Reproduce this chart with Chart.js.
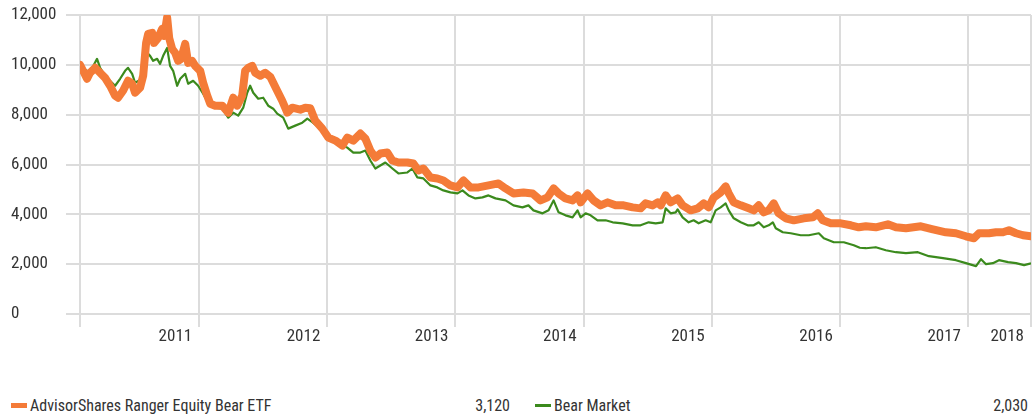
<!DOCTYPE html>
<html>
<head>
<meta charset="utf-8">
<script src="https://cdn.jsdelivr.net/npm/chart.js@4.4.1/dist/chart.umd.min.js"></script>
<style>
  body { margin: 0; background: #fff; }
  #wrap { position: relative; width: 1035px; height: 418px; font-family: 'Roboto Condensed', 'DejaVu Sans Condensed', sans-serif; color: #333; }
  #growthChart { position: absolute; left: 0; top: 0; }
  .leg { position: absolute; top: 395px; height: 20px; display: flex; align-items: center; font-size: 16px; white-space: nowrap; }
  .sw { width: 16px; margin-right: 3px; }
  .val { margin-left: auto; }
</style>
</head>
<body>
<div id="wrap">
  <canvas id="growthChart" width="1035" height="345"></canvas>
</div>
<script>
// growth of 10,000
const seriesNames = ['AdvisorShares Ranger Equity Bear ETF', 'Bear Market']
const seriesColors = ['#f47b38', '#3b8a1d']

const etfYears = [
  2011.070, 2011.094, 2011.125, 2011.148, 2011.188, 2011.211, 2011.266, 2011.305, 2011.344, 2011.367,
  2011.406, 2011.445, 2011.477, 2011.500, 2011.539, 2011.563, 2011.586, 2011.602, 2011.633, 2011.648,
  2011.680, 2011.711, 2011.727, 2011.750, 2011.766, 2011.789, 2011.813, 2011.836, 2011.859, 2011.891,
  2011.914, 2011.945, 2011.969, 2012.008, 2012.031, 2012.063, 2012.086, 2012.125, 2012.180, 2012.227,
  2012.266, 2012.297, 2012.336, 2012.359, 2012.383, 2012.414, 2012.438, 2012.477, 2012.516, 2012.555,
  2012.609, 2012.648, 2012.688, 2012.727, 2012.789, 2012.828, 2012.867, 2012.906, 2012.961, 2013.008,
  2013.063, 2013.117, 2013.156, 2013.203, 2013.258, 2013.297, 2013.336, 2013.375, 2013.414, 2013.469,
  2013.508, 2013.555, 2013.625, 2013.672, 2013.711, 2013.750, 2013.805, 2013.859, 2013.906, 2013.961,
  2014.016, 2014.063, 2014.117, 2014.180, 2014.258, 2014.336, 2014.391, 2014.453, 2014.531, 2014.602,
  2014.664, 2014.719, 2014.766, 2014.805, 2014.859, 2014.914, 2014.953, 2014.977, 2015.031, 2015.078,
  2015.133, 2015.188, 2015.250, 2015.313, 2015.383, 2015.445, 2015.484, 2015.539, 2015.578, 2015.602,
  2015.641, 2015.680, 2015.734, 2015.773, 2015.836, 2015.891, 2015.938, 2015.977, 2016.016, 2016.070,
  2016.109, 2016.133, 2016.172, 2016.227, 2016.289, 2016.328, 2016.367, 2016.406, 2016.445, 2016.484,
  2016.523, 2016.578, 2016.641, 2016.719, 2016.789, 2016.828, 2016.867, 2016.930, 2017.008, 2017.086,
  2017.148, 2017.203, 2017.281, 2017.375, 2017.438, 2017.516, 2017.633, 2017.727, 2017.828, 2017.906,
  2017.984, 2018.047, 2018.086, 2018.164, 2018.219, 2018.273, 2018.320, 2018.375, 2018.430, 2018.492
]
const etfValues = [
  10000, 9760, 9440, 9680, 9880, 9760, 9480, 9160, 8760, 8680,
  8960, 9360, 9240, 8880, 9080, 9560, 10880, 11240, 11280, 10880,
  11080, 11440, 11160, 11900, 11080, 10640, 10480, 10160, 10240, 10840,
  10080, 10160, 9960, 9760, 9280, 8760, 8440, 8360, 8360, 8080,
  8680, 8360, 8760, 9760, 9880, 9960, 9680, 9560, 9680, 9520,
  8960, 8560, 8080, 8280, 8200, 8280, 8260, 7760, 7440, 7080,
  6960, 6760, 7080, 6960, 7240, 7040, 6560, 6280, 6440, 6480,
  6160, 6080, 6080, 6040, 5760, 5840, 5480, 5440, 5360, 5160,
  5080, 5360, 5080, 5080, 5160, 5240, 5040, 4840, 4880, 4840,
  4560, 4680, 5040, 4840, 4640, 4560, 4760, 4480, 4840, 4560,
  4360, 4480, 4360, 4360, 4280, 4240, 4440, 4360, 4480, 4360,
  4760, 4480, 4640, 4360, 4160, 4240, 4440, 4280, 4680, 4880,
  5120, 4840, 4480, 4360, 4240, 4160, 4360, 4080, 4160, 4440,
  4040, 3840, 3760, 3840, 3880, 4040, 3760, 3640, 3640, 3560,
  3480, 3520, 3480, 3600, 3480, 3440, 3520, 3400, 3280, 3240,
  3120, 3040, 3240, 3240, 3280, 3280, 3360, 3240, 3160, 3120
]

const bearYears = [
  2011.070, 2011.109, 2011.148, 2011.203, 2011.227, 2011.266, 2011.320, 2011.344, 2011.383, 2011.422,
  2011.445, 2011.477, 2011.500, 2011.555, 2011.594, 2011.617, 2011.641, 2011.672, 2011.695, 2011.719,
  2011.750, 2011.773, 2011.797, 2011.828, 2011.852, 2011.891, 2011.914, 2011.953, 2011.992, 2012.031,
  2012.070, 2012.125, 2012.180, 2012.227, 2012.266, 2012.305, 2012.344, 2012.375, 2012.398, 2012.422,
  2012.461, 2012.500, 2012.539, 2012.578, 2012.609, 2012.656, 2012.695, 2012.750, 2012.805, 2012.844,
  2012.883, 2012.930, 2012.984, 2013.039, 2013.102, 2013.156, 2013.203, 2013.258, 2013.297, 2013.336,
  2013.375, 2013.414, 2013.453, 2013.508, 2013.555, 2013.625, 2013.664, 2013.703, 2013.750, 2013.805,
  2013.859, 2013.906, 2013.961, 2014.016, 2014.055, 2014.102, 2014.156, 2014.211, 2014.258, 2014.313,
  2014.391, 2014.453, 2014.523, 2014.570, 2014.609, 2014.680, 2014.727, 2014.766, 2014.805, 2014.859,
  2014.914, 2014.953, 2014.977, 2015.016, 2015.055, 2015.109, 2015.172, 2015.227, 2015.305, 2015.383,
  2015.445, 2015.508, 2015.563, 2015.617, 2015.641, 2015.680, 2015.719, 2015.734, 2015.773, 2015.820,
  2015.859, 2015.898, 2015.953, 2015.992, 2016.031, 2016.070, 2016.109, 2016.133, 2016.172, 2016.227,
  2016.281, 2016.328, 2016.367, 2016.406, 2016.445, 2016.477, 2016.500, 2016.555, 2016.617, 2016.695,
  2016.758, 2016.836, 2016.875, 2016.953, 2017.031, 2017.109, 2017.156, 2017.203, 2017.281, 2017.359,
  2017.438, 2017.516, 2017.609, 2017.695, 2017.805, 2017.906, 2017.984, 2018.063, 2018.102, 2018.141,
  2018.195, 2018.242, 2018.313, 2018.375, 2018.438, 2018.492
]
const bearValues = [
  10000, 9800, 9700, 10240, 9880, 9560, 9280, 9160, 9440, 9760,
  9880, 9640, 9280, 9440, 10480, 10360, 10160, 10240, 10040, 10360,
  10680, 9960, 9760, 9160, 9440, 9640, 9240, 9360, 9160, 8840,
  8480, 8280, 8240, 7880, 8080, 7960, 8280, 8880, 9160, 8880,
  8640, 8680, 8360, 8240, 8040, 7880, 7440, 7560, 7680, 7840,
  7700, 7500, 7240, 6960, 6760, 6680, 6480, 6480, 6560, 6160,
  5840, 5960, 6080, 5840, 5640, 5680, 5840, 5480, 5440, 5160,
  5080, 4960, 4880, 4840, 4960, 4760, 4640, 4680, 4760, 4640,
  4560, 4360, 4280, 4360, 4160, 4040, 4160, 4560, 4080, 3960,
  3880, 4160, 3880, 4040, 3960, 3760, 3760, 3680, 3640, 3560,
  3560, 3680, 3640, 3680, 4240, 4040, 4080, 4200, 3880, 3680,
  3760, 3640, 3760, 3680, 4160, 4280, 4440, 4160, 3840, 3680,
  3560, 3560, 3680, 3480, 3560, 3680, 3440, 3280, 3240, 3160,
  3160, 3240, 3040, 2880, 2880, 2760, 2660, 2640, 2680, 2560,
  2480, 2440, 2480, 2320, 2240, 2160, 2040, 1920, 2200, 2000,
  2040, 2160, 2080, 2040, 1960, 2030
]

// gridlines sit at year ends, each label belongs to the year left of its line
const yearTicks = [2011.07, 2012, 2013, 2014, 2015, 2016, 2017, 2018, 2018.492]
const yearLabels = ['', '2011', '2012', '2013', '2014', '2015', '2016', '2017', '2018']

const fontFamily = "'Roboto Condensed', 'DejaVu Sans Condensed', sans-serif"
const gridColor = '#dcdcdc'

const toPoints = (xs, ys) => xs.map((x, i) => ({ x: x, y: ys[i] }))

const ctx = document.getElementById('growthChart').getContext('2d')
const growthChart = new Chart(ctx, {
  type: 'line',
  data: {
    datasets: [
      {
        label: seriesNames[0], data: toPoints(etfYears, etfValues),
        borderColor: seriesColors[0], borderWidth: 8, pointRadius: 0,
        borderCapStyle: 'round', borderJoinStyle: 'round', tension: 0
      },
      {
        label: seriesNames[1], data: toPoints(bearYears, bearValues),
        borderColor: seriesColors[1], borderWidth: 2.2, pointRadius: 0,
        borderJoinStyle: 'round', tension: 0
      }
    ]
  },
  options: {
    responsive: false,
    animation: false,
    layout: { padding: { left: 11, right: 4, top: 15, bottom: 0 } },
    plugins: { legend: { display: false }, tooltip: { enabled: false } },
    scales: {
      x: {
        type: 'linear',
        min: yearTicks[0],
        max: yearTicks[yearTicks.length - 1],
        afterBuildTicks: (scale) => { scale.ticks = yearTicks.map(v => ({ value: v })) },
        afterFit: (scale) => { scale.height = 31; scale.paddingLeft = 0; scale.paddingRight = 0 },
        grid: { color: gridColor, lineWidth: 2, tickLength: 13 },
        border: { display: false },
        ticks: {
          autoSkip: false, maxRotation: 0, align: 'end', labelOffset: -7, padding: 0,
          color: '#333', font: { family: fontFamily, size: 17 },
          callback: (value, index) => yearLabels[index]
        }
      },
      y: {
        min: 0,
        max: 12000,
        afterFit: (scale) => { scale.width = 69; scale.paddingTop = 0; scale.paddingBottom = 0 },
        grid: { color: gridColor, lineWidth: 2, tickLength: 14 },
        border: { display: false },
        ticks: {
          stepSize: 2000, crossAlign: 'far', padding: 0,
          color: '#333', font: { family: fontFamily, size: 17 },
          callback: (value) => value.toLocaleString('en-US')
        }
      }
    }
  }
})

// legend row under the chart, with each series' ending value
const wrap = document.getElementById('wrap')
const legendBoxes = [{ left: 11, width: 499, swatch: 5 }, { left: 535, width: 493, swatch: 3 }]
const lastValues = [etfValues[etfValues.length - 1], bearValues[bearValues.length - 1]]
seriesNames.forEach((name, i) => {
  const box = legendBoxes[i]
  const item = document.createElement('div')
  item.className = 'leg'
  item.style.left = box.left + 'px'
  item.style.width = box.width + 'px'
  item.innerHTML = '<span class="sw" style="height:' + box.swatch + 'px;background:' + seriesColors[i] + '"></span>' +
    '<span>' + name + '</span><span class="val">' + lastValues[i].toLocaleString('en-US') + '</span>'
  wrap.appendChild(item)
})
</script>
</body>
</html>
